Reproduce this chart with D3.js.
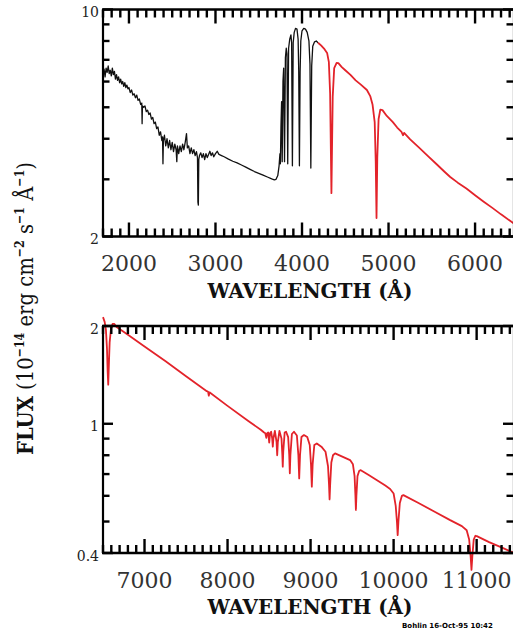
<!DOCTYPE html>
<html>
<head>
<meta charset="utf-8">
<script src="https://cdn.jsdelivr.net/npm/d3@7"></script>
<style>
  html, body { margin: 0; padding: 0; background: #fff; overflow: hidden; }
  svg { display: block; }
  .tickmark { stroke: #000; stroke-width: 2.4px; fill: none; }
</style>
</head>
<body>
<svg id="chart" width="513" height="630"></svg>
<script>
// Ultraviolet + blue spectrum [wavelength Å, flux 1e-14 erg cm-2 s-1 Å-1]
const uvBlueSpectrum = [
  [1700,6.3],[1712,6.55],[1724,6.2],[1736,6.6],[1748,6.4],[1760,6.7],[1772,6.35],[1784,6.5],
  [1796,6.25],[1808,6.6],[1820,6.3],[1832,6.45],[1844,6.1],[1856,6.3],[1868,6.05],[1880,6.2],
  [1892,5.95],[1904,6.1],[1916,5.9],[1928,6.0],[1940,5.8],[1952,5.95],[1964,5.75],[1976,5.85],
  [1988,5.7],[2000,5.75],[2015,5.55],[2030,5.65],[2045,5.45],[2060,5.5],[2075,5.35],[2090,5.45],
  [2105,5.25],[2120,5.3],[2135,5.1],[2148,5.15],[2152,4.45],[2156,5.05],[2170,5.0],[2185,5.05],
  [2200,4.85],[2215,4.9],[2230,4.75],[2245,4.8],[2260,4.6],[2275,4.65],[2290,4.45],[2305,4.5],
  [2320,4.3],[2335,4.35],[2350,4.1],[2365,4.2],[2380,3.95],[2388,4.05],[2393,3.35],[2398,3.95],
  [2410,4.1],[2425,3.8],[2440,4.0],[2455,3.75],[2470,3.95],[2485,3.7],[2500,3.9],[2515,3.65],
  [2530,3.85],[2545,3.7],[2553,3.4],[2560,3.8],[2575,3.6],[2590,3.8],[2605,3.65],[2620,3.85],
  [2635,3.7],[2650,3.9],[2665,4.15],[2675,3.75],[2690,3.8],[2705,3.6],[2720,3.75],[2735,3.6],
  [2750,3.7],[2765,3.55],[2780,3.65],[2792,3.5],[2797,2.55],[2802,2.5],[2807,3.45],[2815,3.55],
  [2830,3.62],[2845,3.5],[2860,3.6],[2875,3.45],[2890,3.6],[2905,3.5],[2920,3.58],[2935,3.66],
  [2950,3.55],[2965,3.62],[2980,3.52],[3000,3.6],[3020,3.66],[3040,3.58],[3070,3.55],[3100,3.52],
  [3150,3.46],[3200,3.41],[3250,3.37],[3300,3.32],[3350,3.27],[3400,3.22],[3450,3.17],[3500,3.13],
  [3550,3.09],[3600,3.05],[3650,3.01],[3680,2.99],[3700,3.0],[3720,3.08],[3735,3.3],[3745,3.6],
  [3750,3.35],[3757,4.4],[3764,5.2],[3771,3.4],[3780,6.0],[3788,6.6],[3798,3.4],[3808,7.1],
  [3818,7.6],[3826,7.3],[3835,3.35],[3845,7.6],[3858,8.1],[3872,8.35],[3880,7.9],[3889,3.3],
  [3898,7.9],[3910,8.5],[3925,8.75],[3942,8.7],[3955,8.1],[3962,6.5],[3970,3.3],[3978,6.4],
  [3986,8.0],[4000,8.6],[4020,8.75],[4040,8.7],[4060,8.5],[4080,8.0],[4092,6.8],[4102,3.25],
  [4112,6.7],[4124,7.7],[4145,7.95],[4165,8.0],[4185,7.9]
];

// Visible spectrum (Hγ, Hβ)
const visibleSpectrum = [
  [4185,7.9],[4220,7.75],[4260,7.55],[4290,7.35],[4310,6.9],[4325,5.5],[4334,3.6],[4340,2.72],
  [4346,3.6],[4355,5.4],[4372,6.6],[4400,6.85],[4420,6.84],[4460,6.65],[4500,6.5],[4560,6.29],
  [4620,6.05],[4680,5.87],[4750,5.65],[4790,5.4],[4815,5.1],[4840,4.5],[4852,3.4],[4861,2.28],
  [4870,3.5],[4885,4.6],[4905,4.92],[4930,4.9],[4980,4.7],[5050,4.5],[5100,4.33],[5150,4.2],
  [5167,4.1],[5180,4.17],[5250,3.98],[5350,3.76],[5450,3.55],[5550,3.35],[5650,3.16],[5713,3.05],
  [5800,2.93],[5900,2.81],[6000,2.68],[6100,2.56],[6200,2.45],[6300,2.34],[6400,2.24],[6450,2.19]
];

// Red / near-infrared spectrum (Hα, O I, Paschen series)
const nearIrSpectrum = [
  [6500,2.13],[6520,2.06],[6535,1.95],[6548,1.7],[6556,1.45],[6563,1.32],[6570,1.5],[6580,1.78],
  [6595,1.95],[6615,2.03],[6635,2.03],[6660,1.99],[6800,1.88],[7000,1.73],[7250,1.56],[7500,1.40],
  [7750,1.26],[7766,1.255],[7774,1.22],[7782,1.25],[8000,1.135],[8250,1.02],[8400,0.958],
  [8440,0.94],[8455,0.935],[8467,0.905],[8478,0.935],[8490,0.94],[8502,0.875],[8512,0.935],
  [8525,0.945],[8538,0.9],[8545,0.85],[8552,0.9],[8570,0.95],[8590,0.88],[8598,0.80],[8606,0.88],
  [8625,0.95],[8650,0.9],[8660,0.8],[8665,0.738],[8671,0.82],[8688,0.94],[8705,0.945],
  [8730,0.91],[8743,0.8],[8750,0.704],[8757,0.8],[8775,0.93],[8800,0.945],[8835,0.92],[8853,0.8],
  [8863,0.679],[8873,0.8],[8890,0.91],[8920,0.923],[8960,0.91],[8990,0.86],[9005,0.75],[9015,0.64],
  [9025,0.75],[9045,0.86],[9075,0.87],[9130,0.85],[9180,0.82],[9210,0.74],[9222,0.65],[9229,0.585],
  [9236,0.65],[9250,0.76],[9270,0.80],[9295,0.811],[9476,0.773],[9510,0.75],[9530,0.69],[9540,0.6],
  [9546,0.543],[9552,0.6],[9565,0.69],[9585,0.715],[9600,0.72],[9700,0.695],[9800,0.67],[9900,0.645],
  [9958,0.63],[10000,0.61],[10025,0.56],[10040,0.5],[10049,0.454],[10058,0.5],[10075,0.57],[10100,0.6],
  [10118,0.603],[10300,0.57],[10500,0.535],[10681,0.505],[10822,0.484],[10880,0.47],[10910,0.44],
  [10928,0.39],[10938,0.355],[10948,0.39],[10965,0.44],[10985,0.452],[11002,0.451],[11150,0.432],
  [11319,0.414],[11450,0.40]
];

const topWaveTicks = [2000, 3000, 4000, 5000, 6000];
const bottomWaveTicks = [7000, 8000, 9000, 10000, 11000];
const topFluxTicks = [2, 10];
const topFluxLabels = ["2", "10"];
const topFluxMinor = [3, 4, 5, 6, 7, 8, 9];
const bottomFluxTicks = [0.4, 1, 2];
const bottomFluxLabels = ["0.4", "1", "2"];
const bottomFluxMinor = [0.5, 0.6, 0.7, 0.8, 0.9];

const RED = "#e3232a";
const svg = d3.select("#chart");
const plotLeft = 103, plotRight = 514;

const panels = [
  { xDomain: [1700, 6450], yDomain: [2, 10], top: 9.5, bottom: 236.5,
    xTicks: topWaveTicks, yTicks: topFluxTicks, yLabels: topFluxLabels, yMinor: topFluxMinor,
    series: [ { data: uvBlueSpectrum, color: "#111", width: 1.3 },
              { data: visibleSpectrum, color: RED, width: 1.8 } ] },
  { xDomain: [6500, 11450], yDomain: [0.4, 2], top: 326, bottom: 553,
    xTicks: bottomWaveTicks, yTicks: bottomFluxTicks, yLabels: bottomFluxLabels, yMinor: bottomFluxMinor,
    series: [ { data: nearIrSpectrum, color: RED, width: 1.8 } ] }
];

const tickLayer = [];

panels.forEach(p => {
  const x = d3.scaleLinear().domain(p.xDomain).range([plotLeft, plotRight]);
  const y = d3.scaleLog().domain(p.yDomain).range([p.bottom, p.top]);
  const g = svg.append("g");

  // spectra
  const line = d3.line().x(d => x(d[0])).y(d => y(d[1]));
  p.series.forEach(s => {
    g.append("path").attr("d", line(s.data)).attr("fill", "none")
      .attr("stroke", s.color).attr("stroke-width", s.width)
      .attr("stroke-linejoin", "round");
  });

  // tick labels
  p.xTicks.forEach(v => {
    g.append("text").attr("x", x(v)).attr("y", p.bottom + 34.5)
      .attr("text-anchor", "middle").attr("font-family", "DejaVu Serif")
      .attr("font-size", 22).attr("fill", "#333").text(String(v));
  });
  p.yTicks.forEach((v, i) => {
    g.append("text").attr("x", 99).attr("y", y(v) + 7.5)
      .attr("text-anchor", "end").attr("font-family", "DejaVu Serif")
      .attr("font-size", 14).attr("fill", "#222").text(p.yLabels[i]);
  });

  // frame
  const frame = g.append("g").attr("stroke", "#000").attr("fill", "none");
  frame.append("line").attr("x1", plotLeft - 1).attr("x2", plotRight + 1)
    .attr("y1", p.bottom).attr("y2", p.bottom).attr("stroke-width", 2.6);
  frame.append("line").attr("x1", plotLeft - 1).attr("x2", plotRight + 1)
    .attr("y1", p.top).attr("y2", p.top).attr("stroke-width", 2.6);
  frame.append("line").attr("x1", plotLeft).attr("x2", plotLeft)
    .attr("y1", p.top).attr("y2", p.bottom).attr("stroke-width", 2.2);
  frame.append("line").attr("x1", plotRight).attr("x2", plotRight)
    .attr("y1", p.top).attr("y2", p.bottom).attr("stroke-width", 2.2);

  // inward tick marks on all four sides
  const minorX = [];
  for (let v = Math.ceil(p.xDomain[0] / 100) * 100; v <= p.xDomain[1]; v += 100) {
    if (v % 1000 !== 0) minorX.push(v);
  }
  p.xTicks.concat(minorX).forEach(v => {
    const len = p.xTicks.indexOf(v) >= 0 ? 14 : 8;
    const px = x(v);
    tickLayer.push([px, p.bottom, px, p.bottom - len]);
    tickLayer.push([px, p.top, px, p.top + len]);
  });
  p.yTicks.concat(p.yMinor).forEach(v => {
    const len = p.yTicks.indexOf(v) >= 0 ? 10 : 6.5;
    const py = y(v);
    tickLayer.push([plotLeft, py, plotLeft + len, py]);
    tickLayer.push([plotRight, py, plotRight - len - 1, py]);
  });

  // x title
  g.append("text").attr("x", 310).attr("y", p.bottom + 61)
    .attr("text-anchor", "middle").attr("font-family", "DejaVu Serif")
    .attr("font-weight", "bold").attr("font-size", 20)
    .attr("textLength", 205).attr("lengthAdjust", "spacingAndGlyphs")
    .attr("fill", "#111").text("WAVELENGTH (Å)");
});

// tick marks drawn last, on top of everything
svg.append("g").selectAll("line").data(tickLayer).enter().append("line")
  .attr("class", "tickmark")
  .attr("x1", d => d[0]).attr("y1", d => d[1])
  .attr("x2", d => d[2]).attr("y2", d => d[3]);

// y title
const yTitle = svg.append("text")
  .attr("transform", "translate(33,308.5) rotate(-90)")
  .attr("text-anchor", "middle").attr("font-family", "DejaVu Serif")
  .attr("font-size", 23).attr("fill", "#111")
  .attr("textLength", 293).attr("lengthAdjust", "spacingAndGlyphs");
const parts = [
  ["FLUX", "bold", 0], [" (10", "normal", 0], ["−14", "bold", 1], [" erg cm", "normal", 0],
  ["−2", "bold", 1], [" s", "normal", 0], ["−1", "bold", 1], [" Å", "normal", 0],
  ["−1", "bold", 1], [")", "normal", 0]
];
let raised = false;
parts.forEach(([t, w, sup]) => {
  const ts = yTitle.append("tspan").attr("font-weight", w).text(t);
  if (sup) { ts.attr("font-size", 13).attr("dy", raised ? 0 : -9); raised = true; }
  else { ts.attr("dy", raised ? 9 : 0); raised = false; }
});

// plot stamp
svg.append("text").attr("x", 402).attr("y", 628)
  .attr("font-family", "DejaVu Sans").attr("font-weight", "bold").attr("font-size", 7)
  .attr("fill", "#000").text("Bohlin 16-Oct-95 10:42");
</script>
</body>
</html>
